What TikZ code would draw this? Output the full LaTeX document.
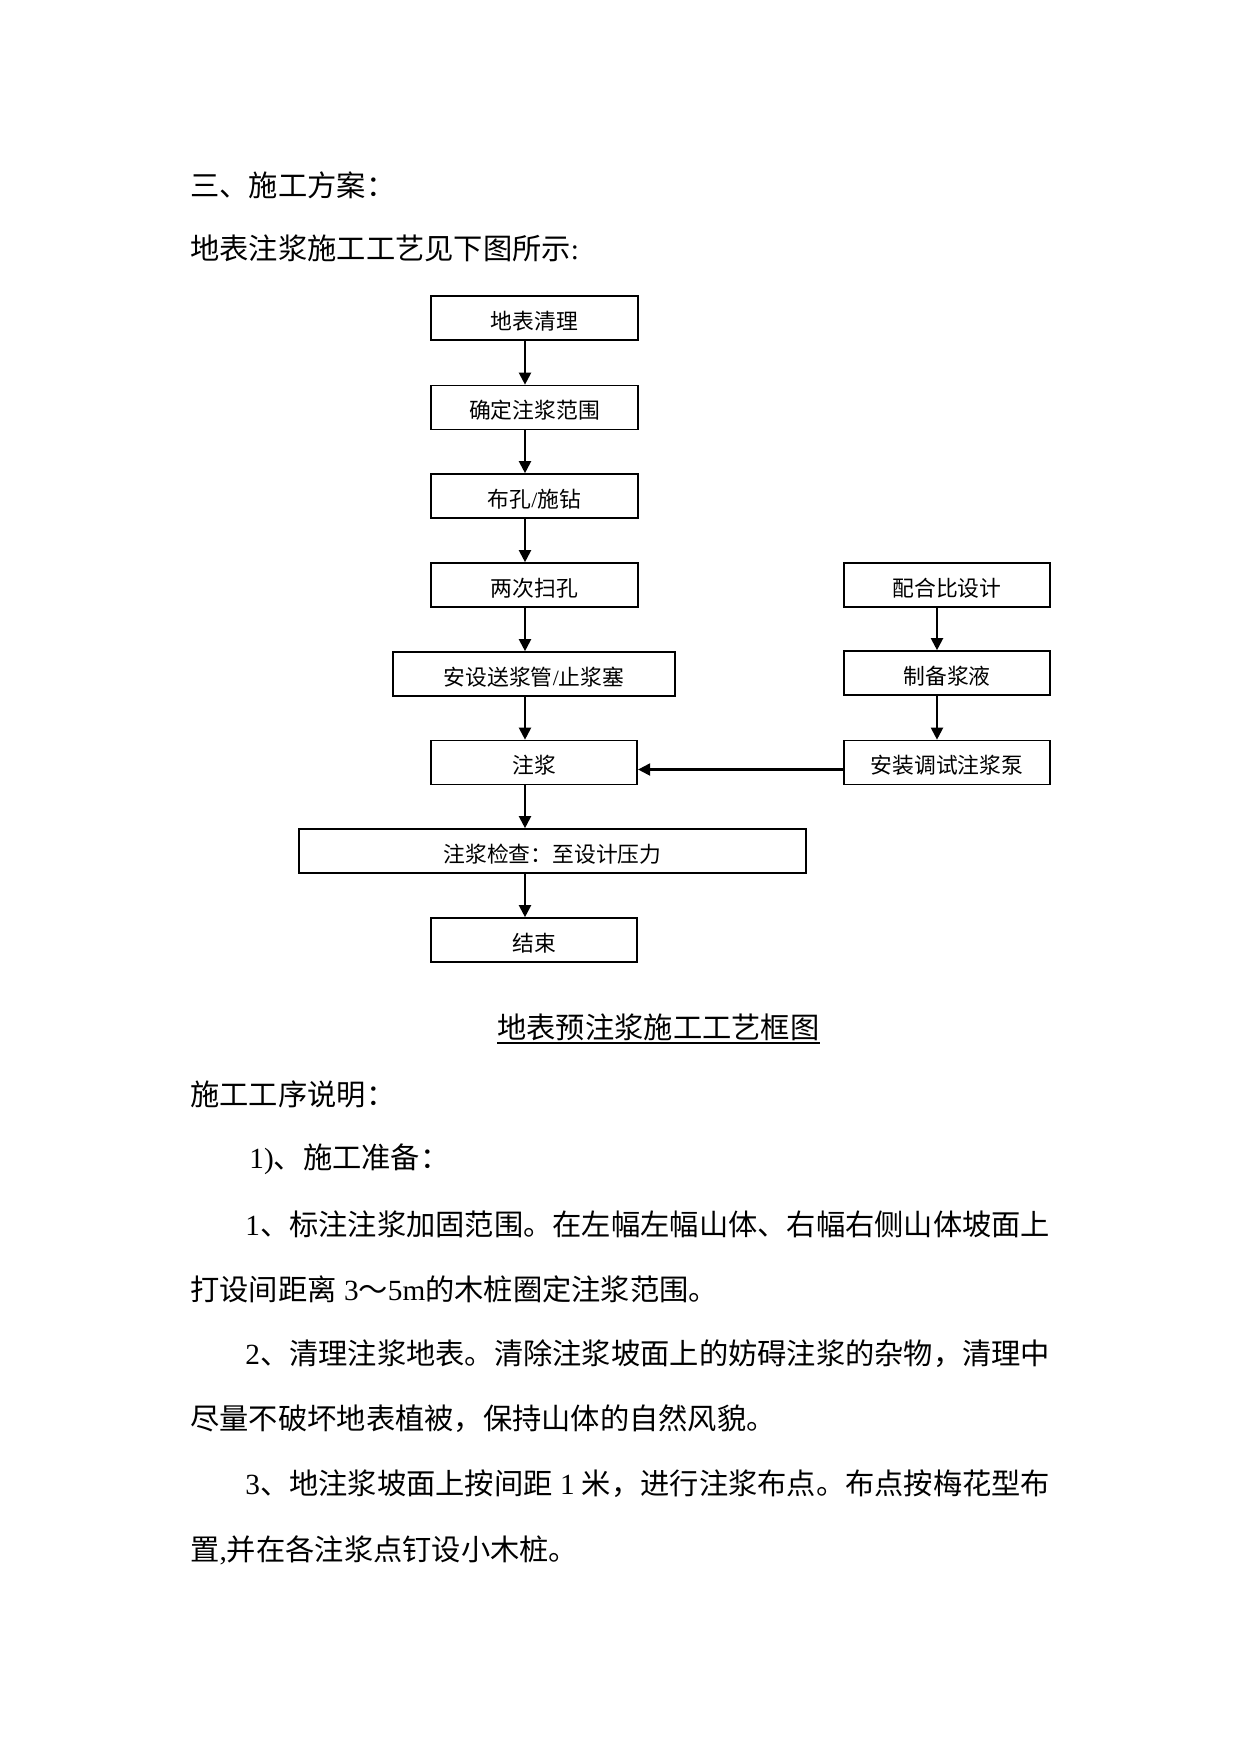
\documentclass[tikz,border=0pt]{standalone}
\usepackage{fontspec}
\setmainfont{Liberation Serif}
\newfontfamily\cjk{Noto Sans CJK SC}
\usepackage{tikz}
\usetikzlibrary{arrows.meta,positioning,calc}

\newcommand\lat[1]{{\rmfamily #1}}

\begin{document}
\begin{tikzpicture}[x=0.1693333mm,y=-0.1693333mm,
    box/.style={draw,line width=0.8pt,minimum width=99.5pt,minimum height=21.2pt,
      inner sep=0pt,text height=12.2pt,text depth=1.3pt,
      font=\cjk\fontsize{10.5pt}{12pt}\selectfont},
    flow/.style={-{Triangle[length=5.8pt,width=5.8pt]},line width=1pt},
    para/.style={anchor=west,inner sep=0pt,font=\cjk\fontsize{14.1pt}{17pt}\selectfont}]
  \useasboundingbox (0,0) rectangle (1241,1754);
  % text above the chart
  \node[para] (hdr) at (190,185) {三、施工方案：};
  \node[para] (intro) at (190,248) {地表注浆施工工艺见下图所示\lat{:}};
  % left column
  \node[box] (qingli) at (534.5,318) {地表清理};
  \node[box] (fanwei) at (534.5,407.5) {确定注浆范围};
  \node[box] (zuankong) at (534.5,496) {布孔\lat{/}施钻};
  \node[box] (saokong) at (534.5,585) {两次扫孔};
  \node[box,minimum width=135.9pt] (guan) at (534,674) {安设送浆管\lat{/}止浆塞};
  \node[box] (zhujiang) at (534,762.5) {注浆};
  \node[box,minimum width=244.3pt] (jiancha) at (552.5,851) {注浆检查：至设计压力};
  \node[box] (jieshu) at (534,940) {结束};
  % right column
  \node[box] (peihebi) at (947,585) {配合比设计};
  \node[box] (zhibei) at (947,673) {制备浆液};
  \node[box] (anzhuang) at (947,762.5) {安装调试注浆泵};
  \coordinate (colL) at (525,0);
  \coordinate (colR) at (937,0);
  \coordinate (rowP) at (0,769.5);
  \foreach \a/\b in {qingli/fanwei,fanwei/zuankong,zuankong/saokong,saokong/guan,
    guan/zhujiang,zhujiang/jiancha,jiancha/jieshu}
    \draw[flow] (\a.south -| colL) -- (\b.north -| colL);
  \foreach \a/\b in {peihebi/zhibei,zhibei/anzhuang}
    \draw[flow] (\a.south -| colR) -- (\b.north -| colR);
  \draw[flow] (anzhuang.west |- rowP) -- (zhujiang.east |- rowP);
  % caption
  \node[para] (cap) at (497,1027) {地表预注浆施工工艺框图};
  \draw[line width=0.8pt] ([yshift=-1pt]cap.south west) -- ([yshift=-1pt]cap.south east);
  % explanation
  \node[para] (sec) at (190,1094) {施工工序说明：};
  \node[para] (prep) at (249,1159) {\lat{1)}、施工准备：};
  \node[para] (p1a) at (245,1224) {\lat{1}、标注注浆加固范围。在左幅左幅山体、右幅右侧山体坡面上};
  \node[para] (p1b) at (190,1289) {打设间距离\lat{ 3}～\lat{5m}的木桩圈定注浆范围。};
  \node[para] (p2a) at (245,1354) {\lat{2}、清理注浆地表。清除注浆坡面上的妨碍注浆的杂物，清理中};
  \node[para] (p2b) at (190,1419) {尽量不破坏地表植被，保持山体的自然风貌。};
  \node[para] (p3a) at (245,1484) {\lat{3}、地注浆坡面上按间距\lat{ 1 }米，进行注浆布点。布点按梅花型布};
  \node[para] (p3b) at (190,1550) {置\lat{,}并在各注浆点钉设小木桩。};
\end{tikzpicture}
\end{document}
